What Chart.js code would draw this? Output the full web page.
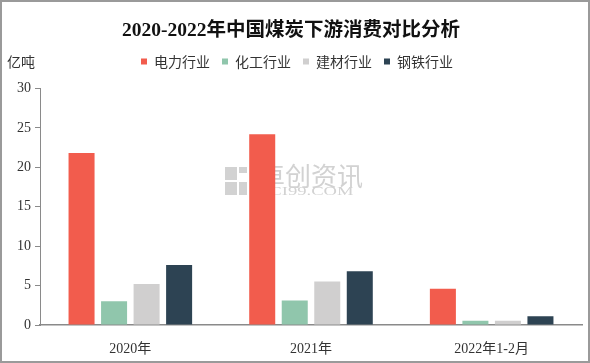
<!DOCTYPE html>
<html><head><meta charset="utf-8">
<script src="https://cdn.jsdelivr.net/npm/chart.js@4/dist/chart.umd.min.js"></script>
<style>html,body{margin:0;padding:0;background:#fff;}canvas{display:block;}</style>
</head><body>
<canvas id="c" width="590" height="363"></canvas>
<script>
const categories = ["2020年", "2021年", "2022年1-2月"];
const seriesNames = ["电力行业", "化工行业", "建材行业", "钢铁行业"];
const power = [21.8, 24.2, 4.6];
const chemical = [3.0, 3.1, 0.55];
const building = [5.2, 5.5, 0.55];
const steel = [7.6, 6.8, 1.1];
const colors = ["#F25C4D", "#90C6AC", "#D0CFCF", "#2D4353"];
const yTicks = [0, 5, 10, 15, 20, 25, 30];
const unitLabel = "亿吨";
const titleText = "2020-2022年中国煤炭下游消费对比分析";
const FONT = "'Liberation Serif', 'Noto Sans CJK SC', serif";

const extras = {
  id: 'extras',
  beforeLayout(chart) {
    const lg = chart.legend;
    if (lg && !lg._patched) {
      const orig = lg.fit;
      lg.fit = function () { orig.call(this); this.height += 10; };
      lg._patched = true;
    }
  },
  afterLayout(chart) {
    const lg = chart.legend;
    if (lg) { lg.left += 6; lg.right += 6; }
  },
  beforeDatasetsDraw(chart) {
    const ctx = chart.ctx;
    ctx.save();
    ctx.fillStyle = '#d2d2d2';
    // logo squares
    ctx.fillRect(225, 167, 12, 13);
    ctx.fillRect(239, 167, 8, 6);
    ctx.fillRect(225, 182, 12, 13);
    ctx.fillRect(239, 182, 8, 13);
    ctx.font = "26px 'Noto Sans CJK SC'";
    ctx.textBaseline = 'middle';
    ctx.fillText('卓创资讯', 259, 176);
    ctx.translate(259, 191.5);
    ctx.scale(1.55, 1);
    ctx.font = "12px 'Liberation Serif'";
    ctx.fillText('SCI99.COM', 0, 0);
    ctx.restore();
  },
  afterDraw(chart) {
    const ctx = chart.ctx;
    ctx.save();
    ctx.fillStyle = '#333';
    ctx.font = "14px 'Noto Sans CJK SC'";
    ctx.textBaseline = 'middle';
    ctx.fillText(unitLabel, 7, 61.5);
    ctx.strokeStyle = '#9a9a9a';
    ctx.lineWidth = 2;
    ctx.strokeRect(1, 1, 588, 361);
    ctx.restore();
  }
};

const data = {
  labels: categories,
  datasets: [power, chemical, building, steel].map((d, i) => ({
    label: seriesNames[i],
    data: d,
    backgroundColor: colors[i],
    borderWidth: 0,
    barPercentage: 0.8,
    categoryPercentage: 0.72
  }))
};

new Chart(document.getElementById('c'), {
  type: 'bar',
  data,
  options: {
    responsive: false,
    animation: false,
    layout: { padding: { left: 0, right: 8, top: 0, bottom: 0 } },
    plugins: {
      title: {
        display: true, text: titleText, color: '#111',
        font: { family: FONT, size: 19.5, weight: 'bold' },
        padding: { top: 19, bottom: 0 }
      },
      legend: {
        display: true, position: 'top',
        labels: {
          boxWidth: 6, boxHeight: 6, padding: 12, color: '#333',
          font: { family: "'Noto Sans CJK SC'", size: 14 }
        }
      },
      tooltip: { enabled: false }
    },
    scales: {
      x: {
        grid: { display: false },
        border: { display: true, color: '#8a8a8a', width: 1.5 },
        ticks: { color: '#333', font: { family: FONT, size: 14 }, padding: 8 },
        afterFit(s) { s.height = 38; }
      },
      y: {
        min: 0, max: 30,
        afterBuildTicks(s) { s.ticks = yTicks.map(v => ({ value: v })); },
        grid: { drawOnChartArea: false, drawTicks: true, tickLength: 5, color: '#8a8a8a' },
        border: { display: true, color: '#8a8a8a', width: 1 },
        ticks: { color: '#333', font: { family: FONT, size: 14 }, padding: 4 },
        afterFit(s) { s.width = 40; }
      }
    }
  },
  plugins: [extras]
});
</script>
</body></html>
